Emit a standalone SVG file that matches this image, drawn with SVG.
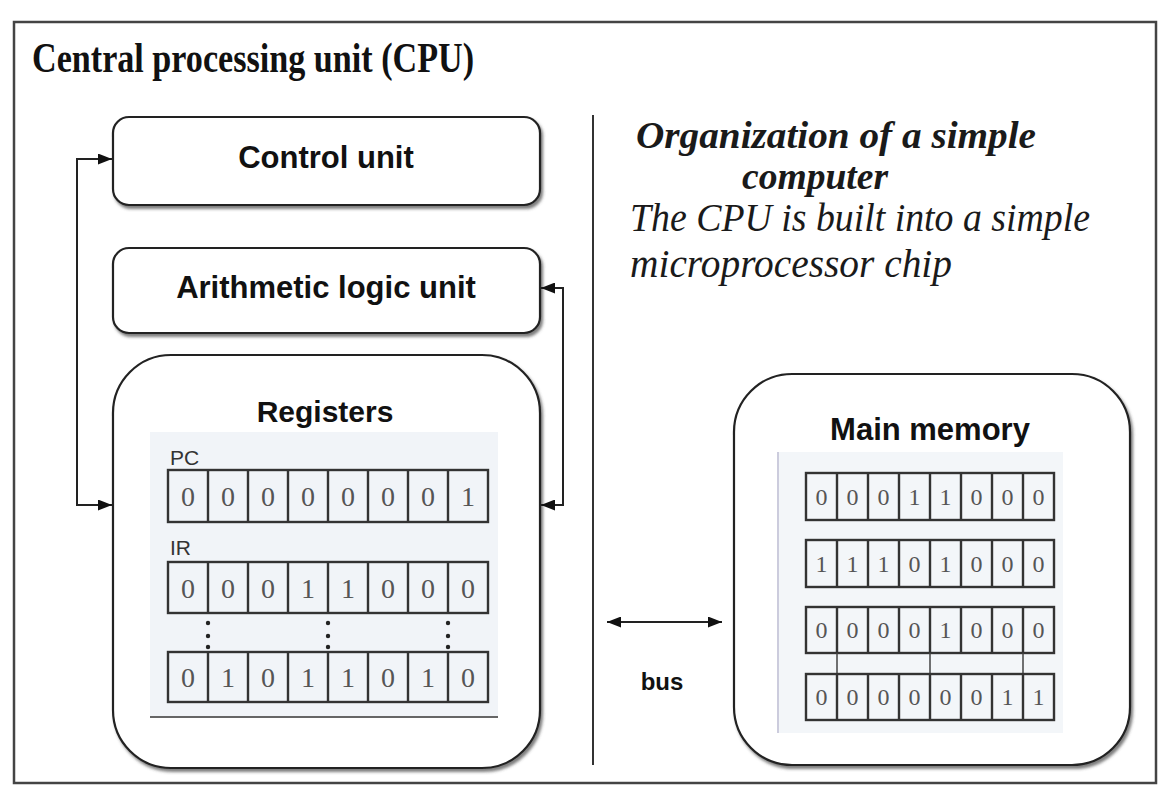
<svg xmlns="http://www.w3.org/2000/svg" width="1163" height="786" viewBox="0 0 1163 786">
<style>
.box{fill:#fff;stroke:#222;stroke-width:2.2;filter:url(#sh)}
.lbl{font-family:"Liberation Sans",Arial,sans-serif;font-weight:bold;fill:#111;text-anchor:middle}
.cell{fill:none;stroke:#333;stroke-width:2.4}
.dg{font-family:"Liberation Serif","Times New Roman",serif;fill:#555;text-anchor:middle}
.rl{font-family:"Liberation Sans",Arial,sans-serif;fill:#333;font-size:21px}
.conn{fill:none;stroke:#222;stroke-width:2}
.it{font-family:"Liberation Serif","Times New Roman",serif;font-style:italic;fill:#1a1a1a}
</style>
<defs>
<filter id="sh" x="-10%" y="-10%" width="120%" height="120%">
<feDropShadow dx="2" dy="3" stdDeviation="1.5" flood-color="#444" flood-opacity="0.7"/>
</filter>
<marker id="ah" viewBox="0 0 14 11" refX="14" refY="5.5" markerWidth="14" markerHeight="11" markerUnits="userSpaceOnUse" orient="auto-start-reverse">
<path d="M0,0 L14,5.5 L0,11 z" fill="#111"/>
</marker>
</defs>
<rect width="1163" height="786" fill="#fff"/>
<rect x="14" y="22" width="1142" height="761" fill="none" stroke="#444" stroke-width="2.5"/>
<text x="32" y="72" font-family="'Liberation Serif','Times New Roman',serif" font-weight="bold" font-size="42" fill="#111" textLength="442" lengthAdjust="spacingAndGlyphs">Central processing unit (CPU)</text>
<line x1="593" y1="115" x2="593" y2="765" stroke="#333" stroke-width="2"/>
<g id="desc">
<text class="it" x="636" y="148" font-size="38" font-weight="bold" textLength="400" lengthAdjust="spacingAndGlyphs">Organization of a simple</text>
<text class="it" x="742" y="189" font-size="38" font-weight="bold" textLength="146" lengthAdjust="spacingAndGlyphs">computer</text>
<text class="it" x="630" y="231" font-size="40" fill="#222" textLength="460" lengthAdjust="spacingAndGlyphs">The CPU is built into a simple</text>
<text class="it" x="630" y="277" font-size="40" fill="#222" textLength="322" lengthAdjust="spacingAndGlyphs">microprocessor  chip</text>
</g>
<g id="control-unit">
<rect class="box" x="113" y="117" width="427" height="88" rx="16"/>
<text class="lbl" x="326" y="168" font-size="31">Control unit</text>
</g>
<g id="alu">
<rect class="box" x="113" y="248" width="427" height="85" rx="16"/>
<text class="lbl" x="326" y="298" font-size="31">Arithmetic logic unit</text>
</g>
<g id="registers">
<rect class="box" x="113" y="355" width="427" height="413" rx="58"/>
<text class="lbl" x="325" y="422" font-size="30">Registers</text>
<rect x="150" y="432" width="348" height="285" fill="#f1f4f8"/>
<line x1="150" y1="717" x2="498" y2="717" stroke="#666" stroke-width="2"/>
<text class="rl" x="170" y="465">PC</text>
<text class="rl" x="170" y="555">IR</text>
<g id="pc">
<rect class="cell" x="168" y="470" width="320" height="52"/>
<path class="cell" d="M208,470V522M248,470V522M288,470V522M328,470V522M368,470V522M408,470V522M448,470V522"/>
<g class="dg" font-size="28">
<text x="188" y="506">0</text><text x="228" y="506">0</text><text x="268" y="506">0</text><text x="308" y="506">0</text><text x="348" y="506">0</text><text x="388" y="506">0</text><text x="428" y="506">0</text><text x="468" y="506">1</text>
</g>
</g>
<g id="ir">
<rect class="cell" x="168" y="562" width="320" height="51"/>
<path class="cell" d="M208,562V613M248,562V613M288,562V613M328,562V613M368,562V613M408,562V613M448,562V613"/>
<g class="dg" font-size="28">
<text x="188" y="598">0</text><text x="228" y="598">0</text><text x="268" y="598">0</text><text x="308" y="598">1</text><text x="348" y="598">1</text><text x="388" y="598">0</text><text x="428" y="598">0</text><text x="468" y="598">0</text>
</g>
</g>
<g fill="#222">
<circle cx="208" cy="623" r="2.2"/><circle cx="208" cy="636" r="2.2"/><circle cx="208" cy="647" r="2.2"/>
<circle cx="328" cy="623" r="2.2"/><circle cx="328" cy="636" r="2.2"/><circle cx="328" cy="647" r="2.2"/>
<circle cx="448" cy="623" r="2.2"/><circle cx="448" cy="636" r="2.2"/><circle cx="448" cy="647" r="2.2"/>
</g>
<g id="r3">
<rect class="cell" x="168" y="652" width="320" height="50"/>
<path class="cell" d="M208,652V702M248,652V702M288,652V702M328,652V702M368,652V702M408,652V702M448,652V702"/>
<g class="dg" font-size="28">
<text x="188" y="687">0</text><text x="228" y="687">1</text><text x="268" y="687">0</text><text x="308" y="687">1</text><text x="348" y="687">1</text><text x="388" y="687">0</text><text x="428" y="687">1</text><text x="468" y="687">0</text>
</g>
</g>
</g>
<g id="main-memory">
<rect class="box" x="734" y="374" width="396" height="391" rx="58"/>
<text class="lbl" x="930" y="440" font-size="31">Main memory</text>
<rect x="777" y="452" width="286" height="281" fill="#f3f6f9"/>
<line x1="778" y1="452" x2="778" y2="733" stroke="#ccd" stroke-width="2"/>
<g id="m1">
<rect class="cell" x="806" y="473" width="248" height="47"/>
<path class="cell" d="M837,473V520M868,473V520M899,473V520M930,473V520M961,473V520M992,473V520M1023,473V520"/>
<g class="dg" font-size="24">
<text x="821.5" y="505">0</text><text x="852.5" y="505">0</text><text x="883.5" y="505">0</text><text x="914.5" y="505">1</text><text x="945.5" y="505">1</text><text x="976.5" y="505">0</text><text x="1007.5" y="505">0</text><text x="1038.5" y="505">0</text>
</g>
</g>
<g id="m2">
<rect class="cell" x="806" y="540" width="248" height="47"/>
<path class="cell" d="M837,540V587M868,540V587M899,540V587M930,540V587M961,540V587M992,540V587M1023,540V587"/>
<g class="dg" font-size="24">
<text x="821.5" y="572">1</text><text x="852.5" y="572">1</text><text x="883.5" y="572">1</text><text x="914.5" y="572">0</text><text x="945.5" y="572">1</text><text x="976.5" y="572">0</text><text x="1007.5" y="572">0</text><text x="1038.5" y="572">0</text>
</g>
</g>
<g id="m3">
<rect class="cell" x="806" y="607" width="248" height="46"/>
<path class="cell" d="M837,607V653M868,607V653M899,607V653M930,607V653M961,607V653M992,607V653M1023,607V653"/>
<g class="dg" font-size="24">
<text x="821.5" y="638">0</text><text x="852.5" y="638">0</text><text x="883.5" y="638">0</text><text x="914.5" y="638">0</text><text x="945.5" y="638">1</text><text x="976.5" y="638">0</text><text x="1007.5" y="638">0</text><text x="1038.5" y="638">0</text>
</g>
</g>
<path d="M837,653V674M930,653V674M1023,653V674" stroke="#444" stroke-width="1.5"/>
<g id="m4">
<rect class="cell" x="806" y="674" width="248" height="46"/>
<path class="cell" d="M837,674V720M868,674V720M899,674V720M930,674V720M961,674V720M992,674V720M1023,674V720"/>
<g class="dg" font-size="24">
<text x="821.5" y="705">0</text><text x="852.5" y="705">0</text><text x="883.5" y="705">0</text><text x="914.5" y="705">0</text><text x="945.5" y="705">0</text><text x="976.5" y="705">0</text><text x="1007.5" y="705">1</text><text x="1038.5" y="705">1</text>
</g>
</g>
</g>
<g id="connectors">
<path class="conn" d="M112,159 H77 V505 H112" marker-start="url(#ah)" marker-end="url(#ah)"/>
<path class="conn" d="M541,288 H563 V505 H541" marker-start="url(#ah)" marker-end="url(#ah)"/>
<line class="conn" x1="607" y1="622" x2="722" y2="622" stroke-width="2.5" marker-start="url(#ah)" marker-end="url(#ah)"/>
</g>
<g id="bus">
<text class="lbl" x="662" y="690" font-size="24">bus</text>
</g>
</svg>
